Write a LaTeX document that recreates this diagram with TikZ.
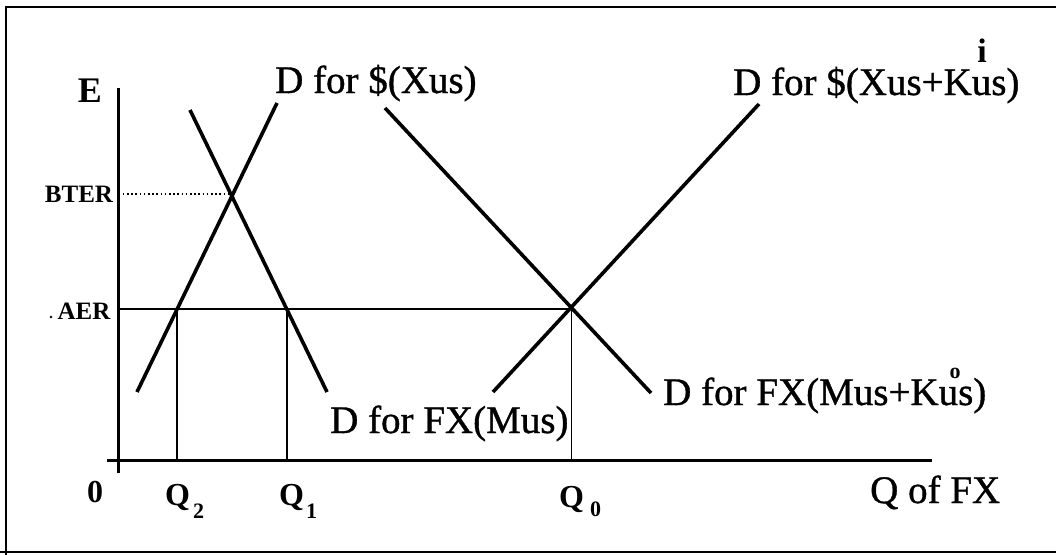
\documentclass[tikz,border=0pt]{standalone}
\usepackage{fontspec}
\setmainfont{Liberation Serif}
\newfontfamily\heavy{Liberation Serif}[FakeBold=0.9]
\begin{document}
\begin{tikzpicture}[x=1pt,y=-1pt,
  curve/.style={line width=3.6pt},
  thin/.style={line width=1.3pt},
  axis/.style={line width=3pt},
  big/.style={inner sep=0pt,font=\fontsize{39}{41}\selectfont\heavy},
  tick/.style={inner sep=0pt,font=\fontsize{32}{34}\selectfont\bfseries},
  sub/.style={inner sep=0pt,font=\fontsize{22}{24}\selectfont\bfseries},
  small/.style={inner sep=0pt,font=\fontsize{25}{27}\selectfont\bfseries}]
\clip (0,0) rectangle (1056,554);
\fill[white] (0,0) rectangle (1056,554);
\draw[line width=2.4pt] (6,560) -- (6,7) -- (1070,7);
\draw[line width=2.4pt] (0,552) -- (1070,552);
% axes
\coordinate (ytop) at (118.5,88);
\coordinate (ybot) at (118.5,473);
\coordinate (xl) at (107,460);
\coordinate (xr) at (932,460);
\draw[axis] (ytop) -- (ybot);
\draw[axis] (xl) -- (xr);
% demand curves
\coordinate (a1) at (137,392); \coordinate (a2) at (277,103);
\coordinate (b1) at (190,110); \coordinate (b2) at (327,392);
\coordinate (c1) at (493,392); \coordinate (c2) at (759,104);
\coordinate (d1) at (385,108); \coordinate (d2) at (651,393);
\draw[curve] (a1) -- (a2);
\draw[curve] (b1) -- (b2);
\draw[curve] (c1) -- (c2);
\draw[curve] (d1) -- (d2);
% guide lines
\coordinate (aer) at (118.5,309);
\coordinate (q0top) at (571.5,309);
\coordinate (bter) at (118.5,194);
\coordinate (bx) at (232,194);
\coordinate (q2top) at (177,309); \coordinate (q2) at (177,460);
\coordinate (q1top) at (287,309); \coordinate (q1) at (287,460);
\coordinate (q0) at (571.5,460);
\draw[thin] (aer) -- (q0top);
\draw[thin] (q0top) -- (q0);
\draw[thin] (q2top) -- (q2);
\draw[thin] (q1top) -- (q1);
\draw[line width=1.6pt, dash pattern=on 1.6pt off 2.6pt] (bter) -- (bx);
% labels
\node[big,anchor=base west] (l1) at (275,93) {D for \$(Xus)};
\node[big,anchor=base west] (l2) at (733,95) {D for \$(Xus+Kus)};
\node[inner sep=0pt,font=\fontsize{34}{36}\selectfont\bfseries,anchor=base] (li) at (982,62) {i};
\node[big,anchor=base west] (l3) at (330,433) {D for FX(Mus)};
\node[big,anchor=base west] (l4) at (663,405) {D for FX(Mus+Kus)};
\node[sub,anchor=base] (lo) at (955,378) {o};
\node[big,anchor=base west] (lq) at (870,503) {Q of FX};
\node[inner sep=0pt,font=\fontsize{36}{38}\selectfont\bfseries,anchor=base] (le) at (90,102) {E};
\node[small] (lbter) at (79,194) {BTER};
\node[small] (laer) at (84,311) {AER};
\fill (51,317) circle (1.4pt);
\node[tick,anchor=base] (l0) at (95,502) {0};
\node[tick,anchor=base west] (lq2) at (165,505) {Q};
\node[sub,anchor=base west] (lq2s) at (193,518) {2};
\node[tick,anchor=base west] (lq1) at (279,505) {Q};
\node[sub,anchor=base west] (lq1s) at (306,518) {1};
\node[tick,anchor=base west] (lq0) at (559,507) {Q};
\node[sub,anchor=base west] (lq0s) at (590,516) {0};
\end{tikzpicture}
\end{document}
